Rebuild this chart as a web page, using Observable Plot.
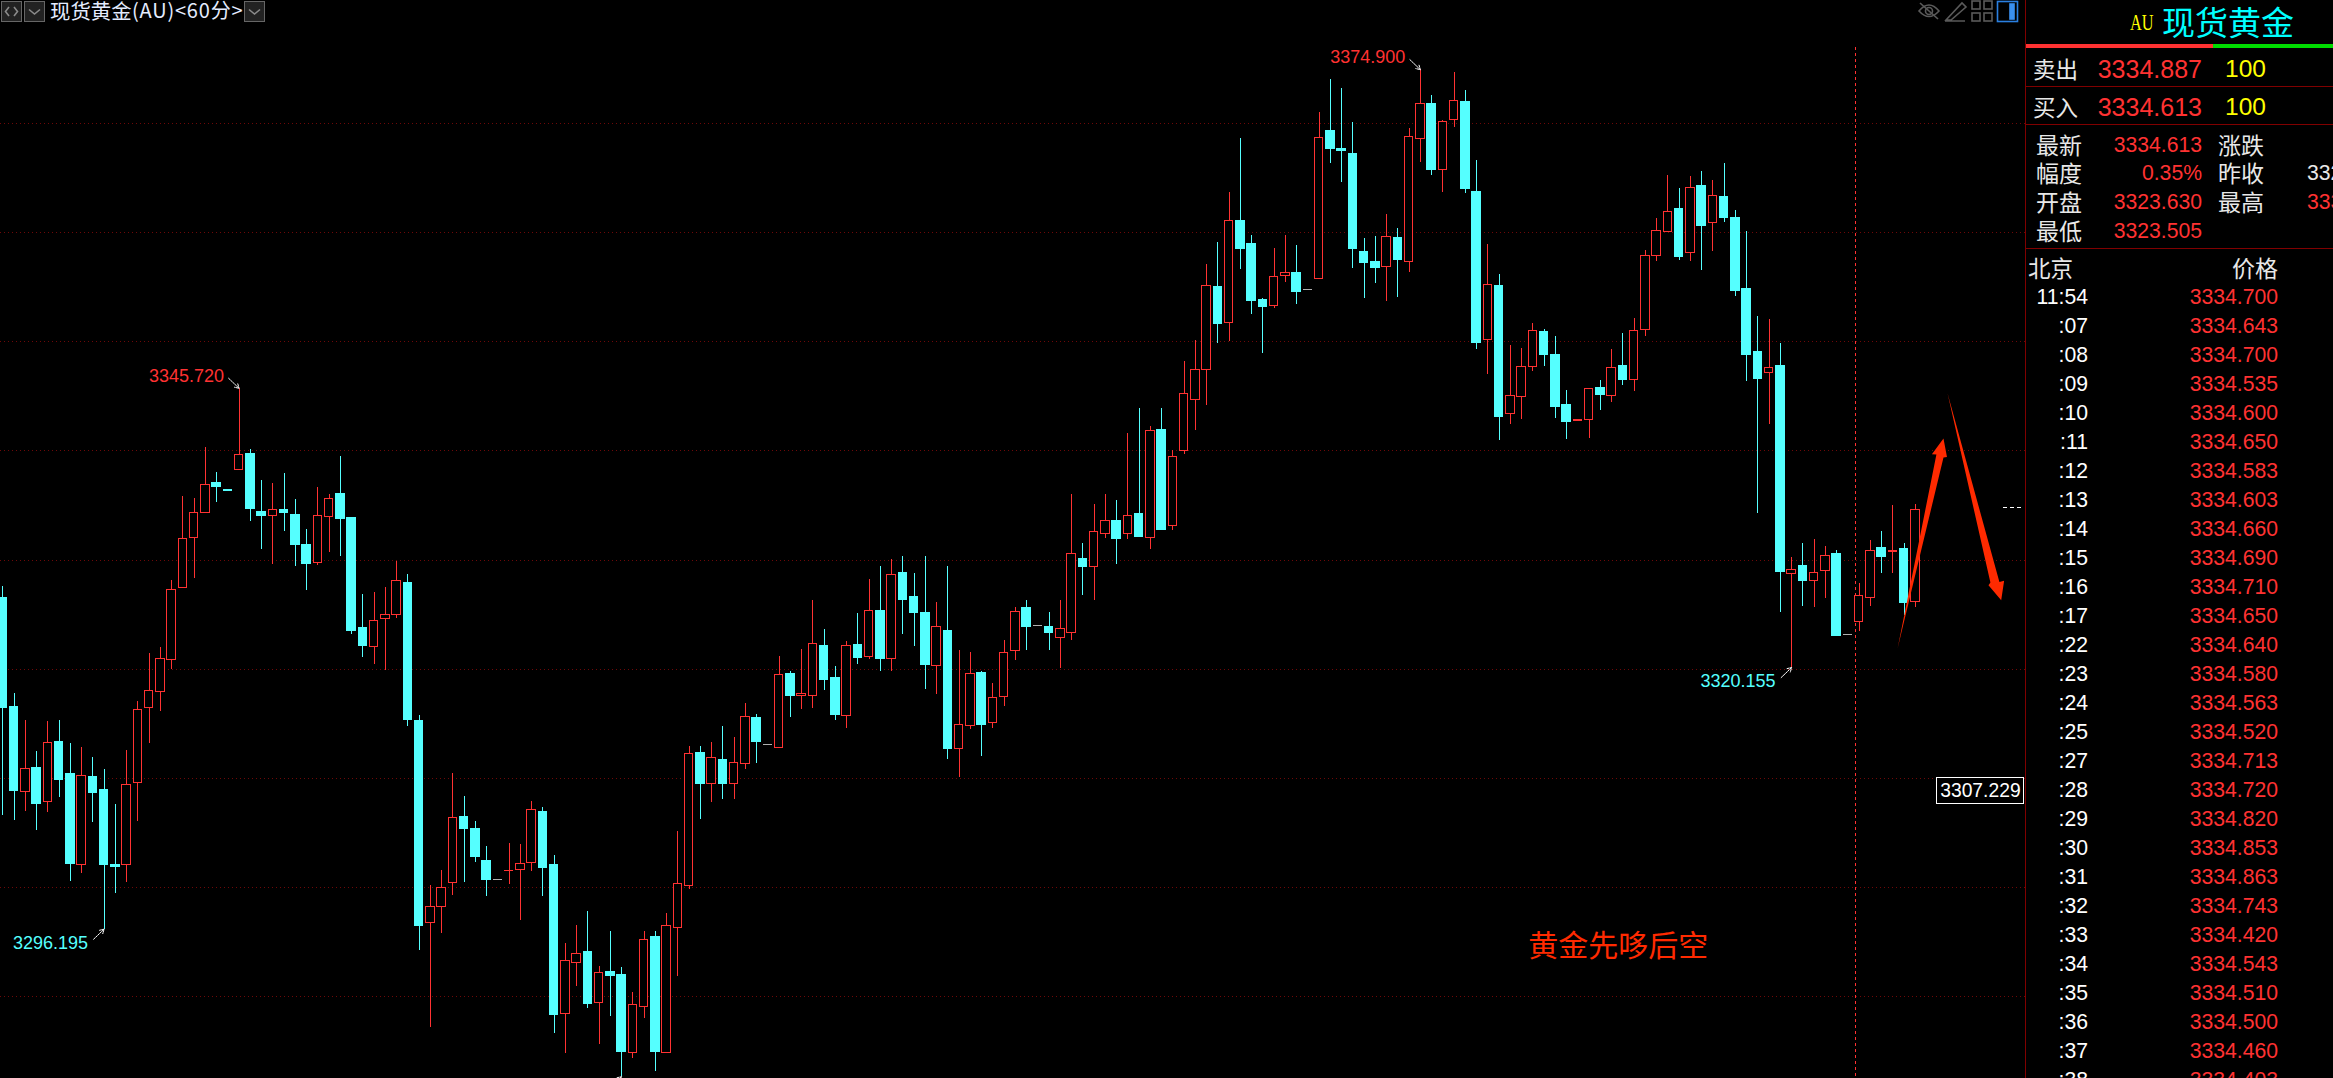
<!DOCTYPE html>
<html><head><meta charset="utf-8">
<script src="https://cdn.jsdelivr.net/npm/d3@7"></script>
<script src="https://cdn.jsdelivr.net/npm/@observablehq/plot@0.6"></script>
<style>
html,body{margin:0;padding:0;background:#000;width:2333px;height:1078px;overflow:hidden}
#chart{position:absolute;left:0;top:0;width:2025px;height:1078px}
#chart svg{display:block}
.t{position:absolute;white-space:nowrap;transform:translateY(-50%);line-height:1}
.box{position:absolute;top:1px;width:19px;height:19px;background:#222;border:1px solid #666}
#panel{position:absolute;left:2025px;top:0;width:308px;height:1078px;overflow:hidden;border-left:1px solid #800000;box-sizing:border-box}
</style></head><body>
<div id="chart"></div>
<div id="panel"></div>
<div id="head"></div>
<script>
const opens=[3326.55,3316.57,3308.73,3310.99,3307.82,3313.29,3310.36,3302.04,3310.16,3308.97,
3302.04,3302.04,3309.57,3316.45,3317.88,3320.81,3327.42,3332.01,3334.31,3337.01,
3336.45,3338.23,3339.74,3334.43,3334.03,3334.55,3334.15,3331.34,3329.72,3333.91,
3336.09,3333.87,3323.74,3322.04,3324.61,3324.97,3327.94,3315.23,3296.74,3298.20,
3300.42,3306.51,3305.41,3302.48,3300.73,3301.52,3301.59,3302.23,3306.89,3302.03,
3288.43,3293.08,3294.06,3289.41,3292.31,3292.04,3284.85,3289.07,3295.52,3284.85,
3296.29,3300.14,3312.36,3309.49,3311.65,3309.49,3311.31,3315.50,3313.07,3312.77,
3319.52,3317.52,3317.56,3322.08,3319.15,3315.70,3322.25,3321.10,3325.29,3320.93,
3328.77,3326.57,3325.19,3320.29,3323.53,3312.70,3314.79,3319.69,3315.06,3317.45,
3321.70,3325.56,3324.00,3323.90,3322.90,3323.36,3330.05,3329.40,3332.36,3333.53,
3332.36,3334.17,3332.00,3341.86,3333.10,3340.00,3344.66,3347.41,3355.04,3351.68,
3361.00,3358.98,3353.85,3353.24,3355.99,3356.32,3354.74,3355.71,3369.24,3367.68,
3367.22,3358.25,3357.33,3356.81,3359.53,3357.27,3368.53,3371.80,3365.70,3370.27,
3371.98,3363.74,3350.13,3355.13,3343.35,3344.92,3347.66,3350.88,3348.74,3344.16,
3342.75,3342.81,3345.71,3345.02,3347.73,3346.47,3351.04,3357.82,3360.03,3362.11,
3358.10,3364.28,3360.85,3363.27,3361.29,3354.85,3349.08,3347.10,3347.73,3328.71,
3329.41,3328.08,3329.00,3330.51,3323.16,3324.30,3326.51,3331.14,3330.73,3331.05,3326.16];
const highs=[3327.58,3317.76,3315.31,3312.45,3315.23,3315.31,3313.21,3312.81,3311.90,3310.83,
3307.63,3312.57,3317.05,3321.44,3322.00,3328.13,3335.82,3335.62,3340.29,3338.00,
3336.45,3345.72,3340.13,3337.28,3337.01,3337.91,3335.54,3332.81,3336.65,3336.01,
3339.46,3333.87,3326.83,3327.03,3327.50,3329.88,3328.69,3315.78,3300.18,3301.57,
3310.44,3308.34,3306.04,3303.78,3300.73,3304.06,3303.95,3307.87,3307.33,3302.94,
3294.87,3296.53,3297.81,3292.78,3295.99,3292.68,3290.38,3295.99,3295.99,3297.64,
3305.14,3312.93,3312.93,3313.31,3314.76,3313.74,3316.85,3315.84,3313.07,3321.17,
3319.79,3321.81,3326.30,3323.64,3320.26,3322.52,3325.09,3328.23,3329.41,3330.05,
3330.32,3328.77,3330.32,3326.07,3329.41,3321.71,3321.54,3319.79,3318.71,3322.60,
3325.65,3326.30,3324.00,3325.20,3326.30,3336.00,3331.51,3335.08,3336.00,3335.45,
3341.59,3343.87,3342.23,3343.87,3340.03,3348.18,3350.10,3357.06,3359.07,3363.65,
3368.60,3359.71,3353.94,3358.52,3359.71,3358.80,3354.74,3370.98,3374.00,3373.17,
3370.06,3359.44,3359.62,3361.64,3360.35,3369.51,3374.90,3372.53,3370.24,3374.64,
3372.99,3366.58,3358.89,3356.14,3349.65,3349.37,3351.67,3351.10,3350.47,3345.52,
3342.78,3345.68,3346.44,3349.27,3350.76,3352.08,3358.36,3361.29,3365.23,3364.03,
3365.13,3365.58,3364.76,3366.30,3362.01,3360.09,3352.30,3352.02,3349.84,3330.23,
3331.52,3331.87,3331.24,3330.89,3323.16,3327.83,3331.80,3332.62,3334.99,3331.52,3335.08];
const lows=[3306.59,3306.16,3306.95,3305.25,3306.87,3308.26,3300.58,3301.29,3305.96,3296.195,
3299.47,3300.46,3306.04,3313.21,3316.14,3319.98,3327.42,3328.29,3334.31,3335.26,
3336.33,3338.23,3333.56,3330.95,3329.60,3332.61,3329.40,3327.22,3329.48,3330.67,
3330.31,3323.19,3321.09,3320.41,3319.90,3324.65,3314.75,3294.24,3287.23,3295.79,
3299.27,3300.46,3302.32,3299.19,3300.73,3300.27,3297.00,3301.49,3299.20,3286.64,
3284.81,3290.96,3288.93,3285.62,3288.19,3282.69,3284.34,3288.02,3283.16,3284.85,
3291.87,3299.84,3306.25,3307.80,3308.07,3308.07,3310.81,3311.38,3313.07,3312.77,
3315.57,3316.31,3316.41,3318.07,3315.30,3314.55,3320.43,3320.90,3319.79,3319.79,
3323.16,3322.08,3318.13,3317.69,3311.72,3310.10,3314.49,3312.02,3314.55,3316.60,
3320.80,3321.70,3324.00,3321.70,3320.10,3322.60,3326.75,3326.30,3331.97,3329.59,
3331.88,3332.15,3330.96,3332.79,3332.70,3339.66,3341.86,3344.15,3349.82,3350.01,
3356.60,3352.48,3348.91,3353.03,3355.41,3353.39,3354.74,3355.71,3366.31,3364.57,
3356.69,3353.94,3355.32,3353.67,3354.04,3356.32,3366.40,3365.21,3363.65,3369.60,
3363.56,3349.27,3346.98,3340.94,3342.40,3342.87,3347.26,3347.73,3342.97,3341.04,
3342.75,3341.14,3343.69,3344.42,3345.99,3345.43,3350.47,3357.35,3360.03,3357.44,
3357.35,3356.53,3358.26,3360.91,3354.13,3346.34,3334.26,3342.40,3325.18,3320.155,
3325.75,3325.65,3326.47,3323.01,3323.16,3323.45,3325.75,3328.78,3328.78,3324.93,3325.65];
const closes=[3316.49,3308.81,3310.87,3307.70,3313.25,3309.88,3302.12,3310.24,3308.62,3302.04,
3301.85,3309.41,3316.26,3318.00,3320.93,3327.26,3331.94,3334.31,3336.89,3336.65,
3336.33,3339.62,3334.63,3334.07,3334.59,3334.27,3331.42,3329.60,3334.03,3335.58,
3333.72,3323.46,3322.08,3324.41,3324.97,3328.10,3315.38,3296.46,3298.24,3299.98,
3306.40,3305.33,3302.83,3300.73,3300.73,3301.55,3302.17,3307.13,3301.76,3288.29,
3293.29,3293.93,3289.37,3292.21,3291.94,3284.92,3289.27,3295.21,3284.92,3296.49,
3300.34,3312.26,3309.46,3311.89,3309.46,3311.41,3315.63,3313.37,3313.07,3319.48,
3317.59,3317.73,3322.32,3319.04,3315.77,3322.15,3321.07,3325.36,3320.97,3328.63,
3326.30,3325.19,3320.43,3323.87,3312.73,3314.89,3319.58,3314.93,3317.39,3321.53,
3325.20,3323.90,3324.00,3323.36,3323.70,3330.57,3329.40,3332.58,3333.59,3331.88,
3334.05,3332.15,3341.83,3332.79,3339.45,3345.22,3347.41,3355.10,3351.65,3361.06,
3358.52,3353.76,3353.21,3355.93,3356.29,3354.58,3354.74,3368.66,3367.68,3367.50,
3358.52,3357.24,3356.78,3359.59,3357.51,3368.75,3371.77,3365.76,3370.12,3372.04,
3363.93,3349.91,3355.20,3343.14,3345.05,3347.70,3350.98,3348.74,3343.98,3342.68,
3342.78,3345.68,3345.14,3347.60,3346.44,3350.98,3357.85,3360.15,3361.89,3357.79,
3364.09,3360.63,3363.34,3361.29,3354.67,3348.74,3346.62,3347.60,3328.87,3329.09,
3328.05,3328.84,3330.38,3323.01,3323.16,3326.73,3330.86,3330.23,3330.86,3326.06,3334.613];

const gridPrices=[3370,3360,3350,3340,3330,3320,3310,3300,3290];
const peakIndex=[21,126];
const peakPrice=[3345.72,3374.9];
const peakLabel=["3345.720","3374.900"];
const troughIndex=[9,159];
const troughPrice=[3296.195,3320.155];
const troughLabel=["3296.195","3320.155"];
const arrowUp=[[168.42,3321.90],[171.87,3339.66],[171.47,3339.69],[172.50,3341.13],[172.81,3339.43],[172.50,3339.39]];
const arrowDown=[[172.86,3345.27],[177.47,3327.99],[177.89,3328.09],[177.63,3326.32],[176.50,3327.70],[176.67,3327.94]];
const noteText="黄金先哆后空";
const crossIndex=164.65, crossPrice=3308.5, crossLabel="3307.229";
const lastMark=3334.78;

const saleTimes=["11:54",":07",":08",":09",":10",":11",":12",":13",":14",":15",":16",":17",":22",":23",":24",":25",":27",":28",":29",":30",":31",":32",":33",":34",":35",":36",":37",":38"];
const salePrices=["3334.700","3334.643","3334.700","3334.535","3334.600","3334.650","3334.583","3334.603","3334.660","3334.690","3334.710","3334.650","3334.640","3334.580","3334.563","3334.520","3334.713","3334.720","3334.820","3334.853","3334.863","3334.743","3334.420","3334.543","3334.510","3334.500","3334.460","3334.403"];

const RED="#ff3232", CYAN="#55ffff", GREY="#b0b0b0", ARROW="#ff2a00";
const SANS='"Liberation Sans",Arial,sans-serif', CJK='"Noto Sans CJK SC",sans-serif';
const candles=opens.map((o,i)=>({i,open:o,high:highs[i],low:lows[i],close:closes[i],
  color:closes[i]>o?RED:closes[i]<o?CYAN:GREY}));
const solid=candles.filter(d=>d.close!==d.open);
const flat=candles.filter(d=>d.close===d.open);
const peaks=peakIndex.map((i,k)=>({i,price:peakPrice[k],label:peakLabel[k]}));
const troughs=troughIndex.map((i,k)=>({i,price:troughPrice[k],label:troughLabel[k]}));
const hw=0.38;

const chart=Plot.plot({
  width:2025,height:1078,margin:0,
  style:{background:"#000"},
  x:{domain:[-0.207,179.79],range:[0,2025],axis:null},
  y:{domain:[3282.52,3381.236],range:[1078,0],axis:null},
  marks:[
    Plot.ruleY(gridPrices,{y:d=>d,stroke:"#6e0808",strokeDasharray:"1 3",shapeRendering:"crispEdges"}),
    Plot.ruleX([crossIndex],{x:d=>d,y1:3376.93,y2:3282.52,stroke:"#ff3232",strokeDasharray:"3 3",shapeRendering:"crispEdges"}),
    Plot.ruleX(candles.filter(d=>d.high>d.low),{x:"i",y1:"low",y2:"high",stroke:"color",shapeRendering:"crispEdges"}),
    Plot.rect(solid,{x1:d=>d.i-hw,x2:d=>d.i+hw,y1:"open",y2:"close",
      fill:d=>d.color===RED?"#000":CYAN,stroke:"color",shapeRendering:"crispEdges"}),
    Plot.ruleY(flat,{y:"close",x1:d=>d.i-hw-0.04,x2:d=>d.i+hw+0.04,stroke:"color",strokeWidth:1,shapeRendering:"crispEdges"}),
    Plot.ruleY([lastMark],{y:d=>d,x1:177.8,x2:179.7,stroke:"#fff",strokeDasharray:"4 3",shapeRendering:"crispEdges"}),
    Plot.arrow(peaks,{x1:d=>d.i-0.93,y1:d=>d.price+0.92,x2:"i",y2:"price",stroke:"#fff",strokeWidth:1,headLength:7,strokeDasharray:"2 1"}),
    Plot.arrow(troughs.concat([{i:55,price:3282.69}]),{x1:d=>d.i-0.93,y1:d=>d.price-0.92,x2:"i",y2:"price",stroke:"#fff",strokeWidth:1,headLength:7,strokeDasharray:"2 1"}),
    Plot.text(peaks,{x:"i",y:"price",text:"label",fill:RED,dx:-15,dy:-12,textAnchor:"end",fontSize:18,fontFamily:SANS}),
    Plot.text(troughs,{x:"i",y:"price",text:"label",fill:CYAN,dx:-16,dy:14,textAnchor:"end",fontSize:18,fontFamily:SANS}),
    Plot.line(arrowUp.concat([arrowUp[0]]),{x:d=>d[0],y:d=>d[1],fill:ARROW,stroke:"none"}),
    Plot.line(arrowDown.concat([arrowDown[0]]),{x:d=>d[0],y:d=>d[1],fill:ARROW,stroke:"none"}),
    Plot.text([noteText],{x:143.6,y:3294.6,text:d=>d,fill:ARROW,fontSize:30,fontFamily:CJK}),
    Plot.rect([crossLabel],{x1:171.9,x2:179.65,y1:3307.7,y2:3310.05,fill:"#000",stroke:"#fff",shapeRendering:"crispEdges"}),
    Plot.text([crossLabel],{x:175.78,y:3308.85,text:d=>d,fill:"#fff",fontSize:19.3,fontFamily:SANS})
  ]
});
document.getElementById("chart").append(chart);

function put(parent,text,o){
  const s=document.createElement("span");
  s.className="t";s.textContent=text;
  const fnt=o.font||CJK;
  s.style.top=(o.y-(fnt===CJK?1.5:0))+"px";
  if(o.left!=null)s.style.left=o.left+"px";
  if(o.right!=null)s.style.right=o.right+"px";
  s.style.fontSize=o.size+"px";
  s.style.color=o.color||"#e8e8e8";
  s.style.fontFamily=fnt;
  if(o.extra)Object.assign(s.style,o.extra);
  parent.append(s);return s;
}
const P=document.getElementById("panel"), X=2026; // panel-local coordinates start after the border
function pl(x){return x-X}
function pr(x){return 2333-x}
function bar(y,h,l,w,c){const d=document.createElement("div");d.style.cssText=`position:absolute;left:${l}px;top:${y}px;height:${h}px;width:${w}px;background:${c}`;P.append(d)}
bar(44,4,0,187,"#ff3232");bar(44,4,187,120,"#00dd00");
bar(86,1,0,307,"#800000");bar(124,1,0,307,"#800000");bar(248,1,0,307,"#800000");
put(P,"AU",{left:pl(2130),y:22,size:24,color:"#ffff00",font:'"Liberation Serif",serif',extra:{transform:"translateY(-50%) scaleX(.68)",transformOrigin:"left center"}});
put(P,"现货黄金",{left:pl(2162),y:22,size:33,color:"#00ffff"});
put(P,"卖出",{left:pl(2033),y:69,size:22.5});
put(P,"3334.887",{right:pr(2202),y:69,size:25,color:RED,font:SANS});
put(P,"100",{left:pl(2225),y:69,size:24.5,color:"#ffff00",font:SANS});
put(P,"买入",{left:pl(2033),y:107,size:22.5});
put(P,"3334.613",{right:pr(2202),y:107,size:25,color:RED,font:SANS});
put(P,"100",{left:pl(2225),y:107,size:24.5,color:"#ffff00",font:SANS});
const statLabels=["最新","幅度","开盘","最低"], statValues=["3334.613","0.35%","3323.630","3323.505"], statY=[145,173,202,231];
statLabels.forEach((l,k)=>{
  put(P,l,{left:pl(2036),y:statY[k],size:23});
  put(P,statValues[k],{right:pr(2202),y:statY[k],size:21.2,color:RED,font:SANS});
});
const stat2Labels=["涨跌","昨收","最高"], stat2Values=["","332","333"], stat2Colors=["","#e8e8e8",RED];
stat2Labels.forEach((l,k)=>{
  put(P,l,{left:pl(2218),y:statY[k],size:23});
  if(stat2Values[k])put(P,stat2Values[k],{left:pl(2307),y:statY[k],size:21.2,color:stat2Colors[k],font:SANS});
});
put(P,"北京",{left:pl(2028),y:268,size:22.5});
put(P,"价格",{right:pr(2278),y:268,size:23});
saleTimes.forEach((t,k)=>{
  const y=297+29*k;
  put(P,t,{right:pr(2088),y,size:21.2,color:"#fff",font:SANS});
  put(P,salePrices[k],{right:pr(2278),y,size:21.2,color:RED,font:SANS});
});

// header strip
const H=document.getElementById("head");
function chev(x,inner){const d=document.createElement("div");d.className="box";d.style.left=x+"px";
  d.innerHTML=`<svg width="19" height="19" style="display:block" fill="none" stroke="#8a8a8a" stroke-width="1.6">${inner}</svg>`;H.append(d)}
chev(1,'<path d="M7 5 L3.5 9.5 L7 14 M12 5 L15.5 9.5 L12 14"/>');
chev(24,'<path d="M4 7.5 L9.5 12 L15 7.5"/>');
chev(244,'<path d="M4 7.5 L9.5 12 L15 7.5"/>');
put(H,"现货黄金",{left:50,y:11,size:20.4,color:"#e4ecff"});
put(H,"(AU)<60分>",{left:132,y:11,size:20,color:"#e4ecff",extra:{letterSpacing:"0.8px"}});
const ic=document.createElement("div");
ic.style.cssText="position:absolute;left:1915px;top:0;width:106px;height:24px";
ic.innerHTML=`<svg width="106" height="24" fill="none" stroke="#5a5a5a" stroke-width="1.6">
<path d="M4 11 Q14 -1 24 11 Q14 22 4 11Z"/><circle cx="14" cy="11" r="3.5"/><path d="M5 3 L23 19"/>
<path d="M31 20 L47 3 L51 7 L36 20 Z M30 21 H50"/>
<rect x="57" y="1" width="8" height="8"/><rect x="69" y="1" width="8" height="8"/><rect x="57" y="13" width="8" height="8"/><rect x="69" y="13" width="8" height="8"/>
<rect x="82.5" y="1.5" width="20" height="20" stroke="#2a7fe0"/><rect x="95" y="4" width="4" height="15" fill="#3a90f0" stroke="#3a90f0"/></svg>`;
H.append(ic);
</script>
</body></html>
